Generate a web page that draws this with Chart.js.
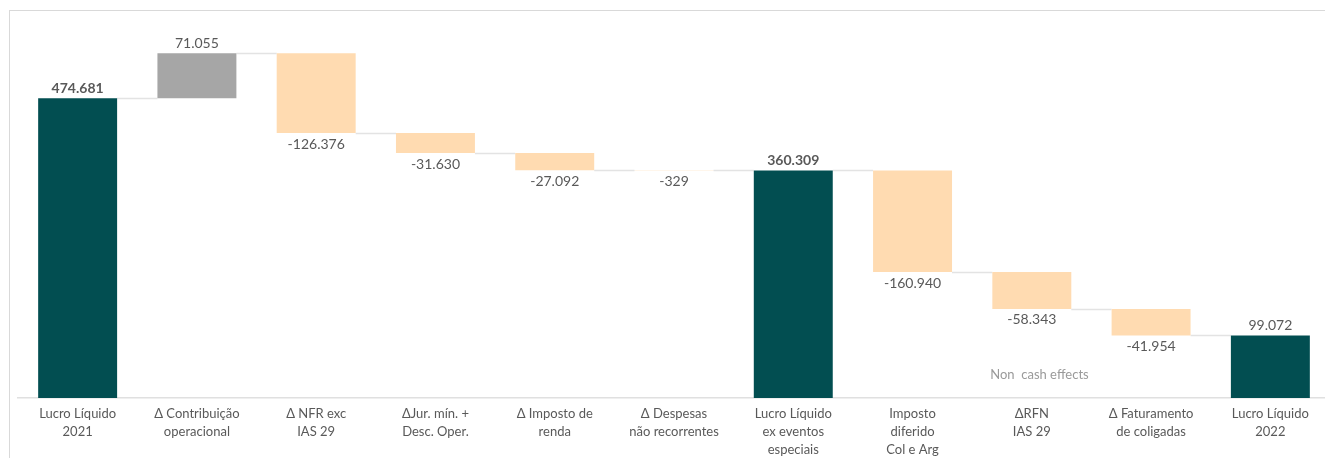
<!DOCTYPE html>
<html>
<head>
<meta charset="utf-8">
<script src="https://cdn.jsdelivr.net/npm/chart.js@4.4.1/dist/chart.umd.min.js"></script>
<style>
  html, body { margin: 0; padding: 0; background: #ffffff; overflow: hidden; width: 1325px; height: 458px; }
  #wrap { position: relative; width: 1325px; height: 458px; overflow: hidden; }
  #frame { position: absolute; left: 9px; top: 10px; width: 1400px; height: 600px; border: 1px solid #d9d9d9; box-sizing: border-box; }
  canvas { position: absolute; left: 0; top: 0; }
</style>
</head>
<body>
<div id="wrap">
  <div id="frame"></div>
  <canvas id="c" width="1341" height="458"></canvas>
</div>
<script>
const categories = [
  ['Lucro Líquido', '2021'],
  ['Δ Contribuição', 'operacional'],
  ['Δ NFR exc', 'IAS 29'],
  ['ΔJur. mín. +', 'Desc. Oper.'],
  ['Δ Imposto de', 'renda'],
  ['Δ Despesas', 'não recorrentes'],
  ['Lucro Líquido', 'ex eventos', 'especiais'],
  ['Imposto', 'diferido', 'Col e Arg'],
  ['ΔRFN', 'IAS 29'],
  ['Δ Faturamento', 'de coligadas'],
  ['Lucro Líquido', '2022']
];
const values = [474681, 71055, -126376, -31630, -27092, -329, 360309, -160940, -58343, -41954, 99072];
const isTotal = [true, false, false, false, false, false, true, false, false, false, true];
const boldLabel = [true, false, false, false, false, false, true, false, false, false, false];
const noteText = 'Non  cash effects';

const COLOR_TOTAL = '#024E51';
const COLOR_UP = '#A6A6A6';
const COLOR_DOWN = '#FFDBB1';

// build floating ranges
const ranges = [];
const runAfter = [];
let run = 0;
values.forEach((v, i) => {
  if (isTotal[i]) { ranges.push([0, v]); run = v; }
  else { ranges.push([run, run + v]); run += v; }
  runAfter.push(run);
});
const colors = values.map((v, i) => isTotal[i] ? COLOR_TOTAL : (v >= 0 ? COLOR_UP : COLOR_DOWN));

function fmt(n) {
  const s = Math.abs(n).toString().replace(/\B(?=(\d{3})+(?!\d))/g, '.');
  return (n < 0 ? '-' : '') + s;
}

const waterfallPlugin = {
  id: 'waterfall',
  beforeDatasetsDraw(chart) {
    const ctx = chart.ctx;
    const meta = chart.getDatasetMeta(0);
    const y = chart.scales.y;
    ctx.save();
    ctx.strokeStyle = '#e3e3e3';
    ctx.lineWidth = 1.5;
    for (let i = 0; i < meta.data.length - 1; i++) {
      const a = meta.data[i], b = meta.data[i + 1];
      const yy = Math.round(y.getPixelForValue(runAfter[i])) + 0.5;
      ctx.beginPath();
      ctx.moveTo(a.x + a.width / 2, yy);
      ctx.lineTo(b.x - b.width / 2, yy);
      ctx.stroke();
    }
    ctx.restore();
  },
  afterDatasetsDraw(chart) {
    const ctx = chart.ctx;
    const meta = chart.getDatasetMeta(0);
    const y = chart.scales.y;
    const x = chart.scales.x;
    ctx.save();
    ctx.textAlign = 'center';
    ctx.textBaseline = 'middle';
    ctx.fillStyle = '#595959';
    meta.data.forEach((bar, i) => {
      const v = values[i];
      const r = ranges[i];
      ctx.font = (boldLabel[i] ? 'bold ' : '') + '14px Lato';
      if (isTotal[i] || v >= 0) {
        const top = y.getPixelForValue(Math.max(r[0], r[1]));
        ctx.fillText(fmt(v), bar.x, top - 10);
      } else {
        const bot = y.getPixelForValue(Math.min(r[0], r[1]));
        ctx.fillText(fmt(v), bar.x, bot + 11);
      }
    });
    // note
    ctx.font = '13px Lato';
    ctx.fillStyle = '#9a9a9a';
    const nx = (x.getPixelForValue(8) + x.getPixelForValue(9)) / 2 - 52;
    ctx.fillText(noteText, nx, y.getPixelForValue(36000));
    ctx.restore();
  }
};

new Chart(document.getElementById('c'), {
  type: 'bar',
  data: {
    labels: categories,
    datasets: [{
      data: ranges,
      backgroundColor: colors,
      borderWidth: 0,
      borderSkipped: false,
      barPercentage: 0.662,
      categoryPercentage: 1.0
    }]
  },
  options: {
    responsive: false,
    animation: false,
    devicePixelRatio: 1,
    layout: { padding: { left: 18, right: 11, top: 19, bottom: 0 } },
    plugins: { legend: { display: false }, tooltip: { enabled: false } },
    scales: {
      x: {
        grid: { display: false, drawTicks: false },
        border: { display: true, color: '#e0e0e0', width: 1.5 },
        ticks: {
          color: '#595959',
          font: { family: 'Lato', size: 13, lineHeight: 1.38 },
          padding: 7,
          maxRotation: 0,
          autoSkip: false
        },
        afterFit(scale) { scale.height = 60; }
      },
      y: {
        display: false,
        min: 0,
        max: 600000
      }
    }
  },
  plugins: [waterfallPlugin]
});
</script>
</body>
</html>
